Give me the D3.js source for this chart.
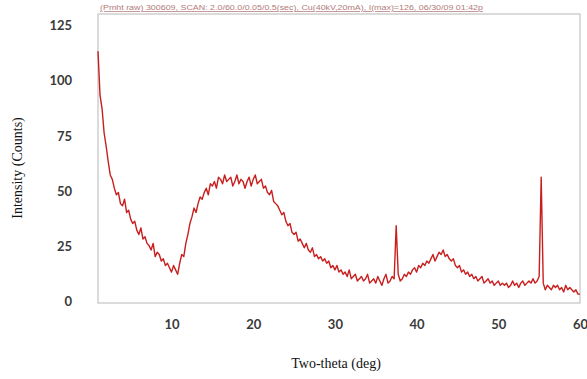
<!DOCTYPE html>
<html>
<head>
<meta charset="utf-8">
<script src="https://cdn.jsdelivr.net/npm/d3@7"></script>
<style>
  html, body { margin: 0; padding: 0; background: #fff; }
  .axis text { font-family: Lato, "Open Sans", sans-serif; font-weight: 700; font-size: 13px; fill: #3a3a3a; }
  .axis path { display: none; }
</style>
</head>
<body>
<div id="chart"></div>
<script>
// scan grid (deg): start, step
const scanStart = 1.0;
const scanStep = 0.25;

// intensity, one value per scan step (1.00 .. 60.00)
const counts = [
  114, 94, 88, 77, 71, 64, 58, 56,
  52, 49, 50, 45, 44, 47, 41, 42,
  38, 36, 37, 33, 31, 34, 29, 30,
  27, 26, 24, 27, 21, 23, 22, 19,
  20, 17, 18, 16, 14, 17, 15, 13,
  18, 22, 21, 27, 31, 36, 39, 43,
  41, 45, 48, 47, 50, 52, 49, 54,
  53, 55, 52, 57, 56, 54, 58, 55,
  56, 57, 53, 55, 58, 54, 56, 55,
  52, 55, 57, 53, 56, 58, 54, 55,
  56, 52, 53, 50, 49, 51, 46, 45,
  44, 42, 40, 41, 37, 35, 36, 32,
  31, 32, 28, 29, 27, 25, 27, 24,
  23, 25, 21, 22, 20, 21, 19, 20,
  18, 19, 16, 17, 15, 17, 14, 15,
  13, 14, 12, 15, 11, 12, 13, 10,
  11, 12, 10, 11, 13, 9, 10, 11,
  9, 12, 10, 8, 11, 13, 9, 10,
  12, 11, 35, 13, 10, 11, 13, 12,
  14, 13, 15, 16, 14, 17, 16, 18,
  17, 19, 18, 20, 22, 19, 21, 23,
  22, 24, 21, 22, 20, 19, 20, 17,
  16, 17, 14, 15, 13, 14, 12, 13,
  11, 12, 10, 11, 12, 9, 10, 11,
  9, 10, 8, 9, 10, 8, 9, 8,
  9, 7, 8, 10, 8, 9, 7, 9,
  10, 8, 9, 10, 9, 11, 9, 10,
  12, 57, 9, 6, 8, 7, 6, 8,
  7, 8, 6, 7, 5, 8, 6, 7,
  6, 5, 6, 4, 4
];

const xTicks = [10, 20, 30, 40, 50, 60];
const yTicks = [0, 25, 50, 75, 100, 125];

const headerText = "(Pmht raw) 300609, SCAN: 2.0/60.0/0.05/0.5(sec), Cu(40kV,20mA), I(max)=126, 06/30/09 01:42p";

const width = 587, height = 379;
const plot = { left: 98, right: 580, top: 14, bottom: 303 };

const svg = d3.select("#chart").append("svg")
  .attr("width", width)
  .attr("height", height);

const xScale = d3.scaleLinear().domain([1, 60]).range([plot.left, plot.right]);
const yScale = d3.scaleLinear().domain([0, 125]).range([plot.bottom, 27]);

const points = counts.map((c, i) => [scanStart + i * scanStep, c]);

// frame
svg.append("rect")
  .attr("x", plot.left)
  .attr("y", plot.top)
  .attr("width", plot.right - plot.left)
  .attr("height", plot.bottom - plot.top)
  .attr("fill", "none")
  .attr("stroke", "#c4c4c4")
  .attr("stroke-width", 1.2);

// header
svg.append("text")
  .attr("x", 100)
  .attr("y", 10)
  .attr("textLength", 383)
  .attr("lengthAdjust", "spacingAndGlyphs")
  .style("font-family", "Liberation Sans, Arial, sans-serif")
  .style("font-size", "7.5px")
  .style("fill", "#b27a7a")
  .style("text-decoration", "underline")
  .text(headerText);

// trace
const line = d3.line()
  .x(d => xScale(d[0]))
  .y(d => yScale(d[1]));

svg.append("path")
  .datum(points)
  .attr("fill", "none")
  .attr("stroke", "#c81e1e")
  .attr("stroke-width", 1.4)
  .attr("stroke-linejoin", "round")
  .attr("d", line);

// axes
svg.append("g")
  .attr("class", "axis")
  .attr("transform", `translate(0, ${plot.bottom})`)
  .call(d3.axisBottom(xScale).tickValues(xTicks).tickSize(0).tickPadding(17));

svg.append("g")
  .attr("class", "axis")
  .attr("transform", `translate(${plot.left}, 0)`)
  .call(d3.axisLeft(yScale).tickValues(yTicks).tickSize(0).tickPadding(26))
  .selectAll("text").attr("dy", "0.2em");

// axis titles
svg.append("text")
  .attr("x", 336)
  .attr("y", 368)
  .attr("text-anchor", "middle")
  .style("font-family", "Liberation Serif, Times New Roman, serif")
  .style("font-size", "14px")
  .style("fill", "#111")
  .text("Two-theta (deg)");

svg.append("text")
  .attr("transform", "translate(22, 168) rotate(-90)")
  .attr("text-anchor", "middle")
  .style("font-family", "Liberation Serif, Times New Roman, serif")
  .style("font-size", "14px")
  .style("fill", "#111")
  .text("Intensity (Counts)");
</script>
</body>
</html>
